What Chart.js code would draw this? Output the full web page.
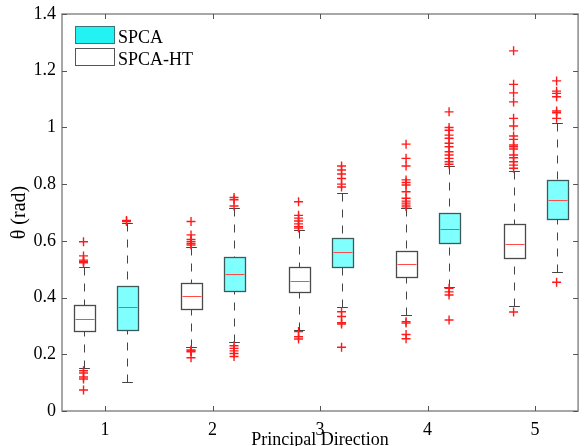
<!DOCTYPE html>
<html>
<head>
<meta charset="utf-8">
<script src="https://cdn.jsdelivr.net/npm/chart.js@4.4.1/dist/chart.umd.min.js"></script>
<style>
  html, body { margin: 0; padding: 0; background: #fff; overflow: hidden; }
  #wrap { width: 584px; height: 446px; overflow: hidden; }
  canvas { display: block; }
</style>
</head>
<body>
<div id="wrap"><canvas id="chart" width="584" height="452"></canvas></div>
<script>
// groups / ticks
const groups = [1, 2, 3, 4, 5];
const xTicks = [1, 2, 3, 4, 5];
const yTicks = [0, 0.2, 0.4, 0.6, 0.8, 1, 1.2, 1.4];
const seriesNames = ['SPCA', 'SPCA-HT'];

// SPCA (cyan boxes)
const spcaLow  = [0.101, 0.245, 0.366, 0.438, 0.491];
const spcaQ1   = [0.286, 0.423, 0.509, 0.593, 0.677];
const spcaMed  = [0.366, 0.482, 0.561, 0.642, 0.744];
const spcaQ3   = [0.441, 0.542, 0.611, 0.700, 0.815];
const spcaHigh = [0.663, 0.715, 0.768, 0.864, 1.014];
const spcaOut = [
  [0.672, 0.668],
  [0.753, 0.745, 0.723, 0.230, 0.221, 0.212, 0.203, 0.192],
  [0.864, 0.850, 0.836, 0.820, 0.800, 0.790, 0.350, 0.333, 0.311, 0.307, 0.225],
  [1.055, 1.000, 0.990, 0.973, 0.962, 0.944, 0.932, 0.914, 0.903, 0.891, 0.879, 0.870, 0.433, 0.420, 0.409, 0.321],
  [1.164, 1.128, 1.120, 1.108, 1.058, 1.052, 1.032, 0.454]
];

// SPCA-HT (white boxes)
const htLow  = [0.153, 0.226, 0.286, 0.337, 0.371];
const htQ1   = [0.281, 0.360, 0.420, 0.471, 0.538];
const htMed  = [0.324, 0.405, 0.460, 0.518, 0.589];
const htQ3   = [0.375, 0.450, 0.507, 0.564, 0.658];
const htHigh = [0.509, 0.577, 0.637, 0.715, 0.847];
const htOut = [
  [0.597, 0.547, 0.532, 0.527, 0.523, 0.142, 0.134, 0.120, 0.113, 0.074],
  [0.668, 0.621, 0.605, 0.597, 0.590, 0.585, 0.215, 0.212, 0.209, 0.188],
  [0.738, 0.690, 0.680, 0.670, 0.660, 0.650, 0.645, 0.280, 0.262, 0.254],
  [0.941, 0.891, 0.864, 0.815, 0.806, 0.797, 0.773, 0.750, 0.740, 0.733, 0.726, 0.720, 0.315, 0.310, 0.270, 0.255],
  [1.270, 1.152, 1.122, 1.090, 1.032, 1.005, 0.970, 0.958, 0.938, 0.932, 0.924, 0.903, 0.893, 0.879, 0.867, 0.856, 0.349]
];

const FONT = 'Liberation Serif, Times New Roman, serif';
const boxWidth = 0.2;   // in x units
const capWidth = 0.1;

const series = [
  { name: seriesNames[1], offset: -0.2, fill: '#ffffff', stroke: '#4a4a4a',
    low: htLow, q1: htQ1, med: htMed, q3: htQ3, high: htHigh, out: htOut },
  { name: seriesNames[0], offset: 0.2, fill: '#80ffff', stroke: '#3d5a5a',
    low: spcaLow, q1: spcaQ1, med: spcaMed, q3: spcaQ3, high: spcaHigh, out: spcaOut }
];

function outlierPoints(s) {
  const pts = [];
  groups.forEach((g, i) => s.out[i].forEach(v => pts.push({ x: g + s.offset, y: v })));
  return pts;
}

const crisp = v => Math.round(v) + 0.5;

// boxes, whiskers, medians
const boxPlot = {
  id: 'boxPlot',
  beforeDatasetsDraw(chart) {
    const { ctx, scales: { x, y } } = chart;
    ctx.save();
    series.forEach(s => {
      groups.forEach((g, i) => {
        const cx = crisp(x.getPixelForValue(g + s.offset));
        const hb = x.getPixelForValue(g + s.offset + boxWidth / 2) - x.getPixelForValue(g + s.offset);
        const hc = x.getPixelForValue(g + s.offset + capWidth / 2) - x.getPixelForValue(g + s.offset);
        const yLo = crisp(y.getPixelForValue(s.low[i]));
        const yQ1 = crisp(y.getPixelForValue(s.q1[i]));
        const yMed = crisp(y.getPixelForValue(s.med[i]));
        const yQ3 = crisp(y.getPixelForValue(s.q3[i]));
        const yHi = crisp(y.getPixelForValue(s.high[i]));

        // whiskers
        ctx.strokeStyle = '#444';
        ctx.lineWidth = 1;
        ctx.setLineDash([8, 8]);
        ctx.beginPath();
        ctx.moveTo(cx, yHi); ctx.lineTo(cx, yQ3);
        ctx.moveTo(cx, yLo); ctx.lineTo(cx, yQ1);
        ctx.stroke();
        ctx.setLineDash([]);
        ctx.beginPath();
        ctx.moveTo(cx - hc, yHi); ctx.lineTo(cx + hc, yHi);
        ctx.moveTo(cx - hc, yLo); ctx.lineTo(cx + hc, yLo);
        ctx.stroke();

        // box
        const l = Math.round(cx - hb) + 0.5, r = Math.round(cx + hb) + 0.5;
        ctx.fillStyle = s.fill;
        ctx.fillRect(l, yQ3, r - l, yQ1 - yQ3);
        ctx.strokeStyle = s.stroke;
        ctx.lineWidth = 1.3;
        ctx.strokeRect(l, yQ3, r - l, yQ1 - yQ3);

        // median
        ctx.strokeStyle = '#ff4a4a';
        ctx.lineWidth = 1;
        ctx.beginPath();
        ctx.moveTo(l + 1, yMed); ctx.lineTo(r - 1, yMed);
        ctx.stroke();
      });
    });
    ctx.restore();
  }
};

// axes box, inward ticks, legend
const frame = {
  id: 'frame',
  afterDraw(chart) {
    const { ctx, chartArea: a, scales: { x, y } } = chart;
    ctx.save();
    ctx.strokeStyle = '#8a8a8a';
    ctx.lineWidth = 1.5;
    ctx.strokeRect(a.left, a.top, a.right - a.left, a.bottom - a.top);
    ctx.lineWidth = 1;
    ctx.strokeStyle = '#555';
    ctx.beginPath();
    xTicks.forEach(v => {
      const px = crisp(x.getPixelForValue(v));
      ctx.moveTo(px, a.bottom); ctx.lineTo(px, a.bottom - 5);
      ctx.moveTo(px, a.top); ctx.lineTo(px, a.top + 5);
    });
    yTicks.forEach(v => {
      const py = crisp(y.getPixelForValue(v));
      ctx.moveTo(a.left, py); ctx.lineTo(a.left + 5, py);
      ctx.moveTo(a.right, py); ctx.lineTo(a.right - 5, py);
    });
    ctx.stroke();

    // legend
    const lx = a.left + 13, ly = a.top + 12;
    const items = [
      { text: seriesNames[0], fill: '#22f2f2', stroke: '#3a7676' },
      { text: seriesNames[1], fill: '#ffffff', stroke: '#555' }
    ];
    ctx.font = '18px ' + FONT;
    ctx.textBaseline = 'alphabetic';
    ctx.textAlign = 'left';
    items.forEach((it, k) => {
      const top = ly + k * 22;
      ctx.fillStyle = it.fill;
      ctx.fillRect(lx + 0.5, top + 0.5, 39, 17);
      ctx.strokeStyle = it.stroke;
      ctx.lineWidth = 1;
      ctx.strokeRect(lx + 0.5, top + 0.5, 39, 17);
      ctx.fillStyle = '#000';
      ctx.fillText(it.text, lx + 43, top + 17);
    });
    ctx.restore();
  }
};

new Chart(document.getElementById('chart'), {
  type: 'scatter',
  data: {
    datasets: series.map(s => ({
      label: s.name,
      data: outlierPoints(s),
      pointStyle: 'cross',
      radius: 4.5,
      borderColor: '#ff1a1a',
      borderWidth: 1.4,
      backgroundColor: '#ff1a1a'
    }))
  },
  options: {
    responsive: false,
    animation: false,
    devicePixelRatio: 1,
    layout: { padding: { top: 14, right: 1, left: 0, bottom: 0 } },
    plugins: { legend: { display: false }, tooltip: { enabled: false } },
    scales: {
      x: {
        type: 'linear', min: 0.6, max: 5.4,
        afterBuildTicks: sc => { sc.ticks = xTicks.map(v => ({ value: v })); },
        afterFit: sc => { sc.height = 41; sc.paddingLeft = 0; sc.paddingRight = 0; },
        grid: { display: false, drawTicks: false },
        border: { display: false },
        ticks: { padding: 8, color: '#000', font: { family: FONT, size: 18 }, callback: v => String(v) },
        title: { display: true, text: 'Principal Direction', color: '#000',
                 font: { family: FONT, size: 18 }, padding: { top: 0, bottom: 1 } }
      },
      y: {
        min: 0, max: 1.4,
        afterBuildTicks: sc => { sc.ticks = yTicks.map(v => ({ value: v })); },
        afterFit: sc => { sc.width = 62; sc.paddingTop = 0; sc.paddingBottom = 0; },
        grid: { display: false, drawTicks: false },
        border: { display: false },
        ticks: { padding: 6, color: '#000', font: { family: FONT, size: 18 }, callback: v => String(+v.toFixed(1)) },
        title: { display: true, text: 'θ (rad)', color: '#000',
                 font: { family: FONT, size: 20 }, padding: { top: 8, bottom: 2 } }
      }
    }
  },
  plugins: [boxPlot, frame]
});
</script>
</body>
</html>
